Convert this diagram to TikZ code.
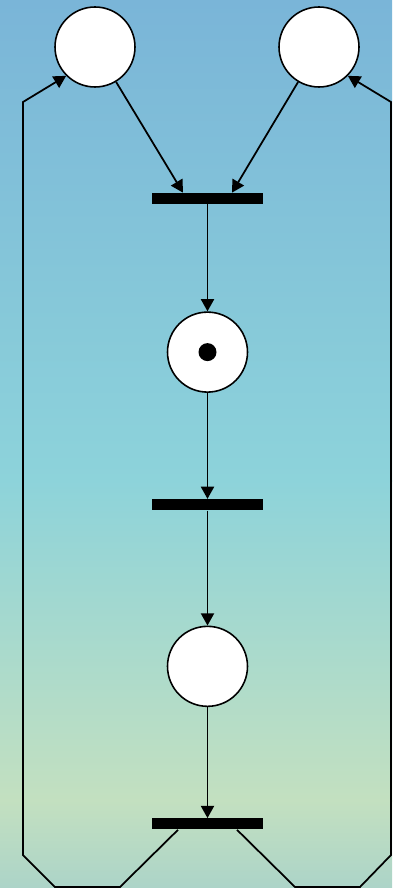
\documentclass[tikz,border=0pt]{standalone}
\usepackage{tikz}
\usetikzlibrary{arrows.meta, positioning, calc}

\definecolor{skytop}{RGB}{122,181,216}
\definecolor{skymid}{RGB}{141,211,218}
\definecolor{meadow}{RGB}{195,224,192}
\definecolor{meadowlow}{RGB}{172,212,200}

\begin{document}
\begin{tikzpicture}[
    x=0.02cm, y=-0.02cm,
    place/.style={draw, circle, fill=white, line width=0.9pt, minimum size=1.6cm, inner sep=0pt},
    transition/.style={rectangle, fill=black, minimum width=2.22cm, minimum height=0.22cm, inner sep=0pt},
    token/.style={circle, fill=black, minimum size=0.36cm, inner sep=0pt},
    arc/.style={line width=1pt, -{Triangle[length=7pt, width=7.5pt]}}
]

% background
\shade[top color=skytop, bottom color=skymid] (0,0) rectangle (392,481);
\shade[top color=skymid, bottom color=meadow] (0,480) rectangle (392,801);
\shade[top color=meadow, bottom color=meadowlow] (0,800) rectangle (392,888);
\useasboundingbox (0,0) rectangle (392,888);

% places and transitions
\node (p1) [place] at (95,47) {};
\node (p2) [place] at (319,47) {};
\node (t1) [transition] at (207.5,198.5) {};
\node (p3) [place, below=2.14cm of t1] {};
\node (tok) [token] at (p3) {};
\node (t2) [transition, below=2.12cm of p3] {};
\node (p4) [place, below=2.30cm of t2] {};
\node (t3) [transition, below=2.22cm of p4] {};

% bends of the return arcs
\coordinate (l1) at (120,887);
\coordinate (l2) at (55,887);
\coordinate (l3) at (23,855);
\coordinate (l4) at (23,102);
\coordinate (r1) at (295,887);
\coordinate (r2) at (360,887);
\coordinate (r3) at (391,855);
\coordinate (r4) at (391,102);

\draw[arc] (p1) -- ([xshift=-0.49cm]t1.north);
\draw[arc] (p2) -- ([xshift=0.49cm]t1.north);
\draw[arc] (t1) -- (p3);
\draw[arc] (p3) -- (t2);
\draw[arc] (t2) -- (p4);
\draw[arc] (p4) -- (t3);
\draw[arc] ([xshift=-0.59cm]t3.south) -- (l1) -- (l2) -- (l3) -- (l4) -- (p1.225);
\draw[arc] ([xshift=0.59cm]t3.south) -- (r1) -- (r2) -- (r3) -- (r4) -- (p2.-45);

\end{tikzpicture}
\end{document}
